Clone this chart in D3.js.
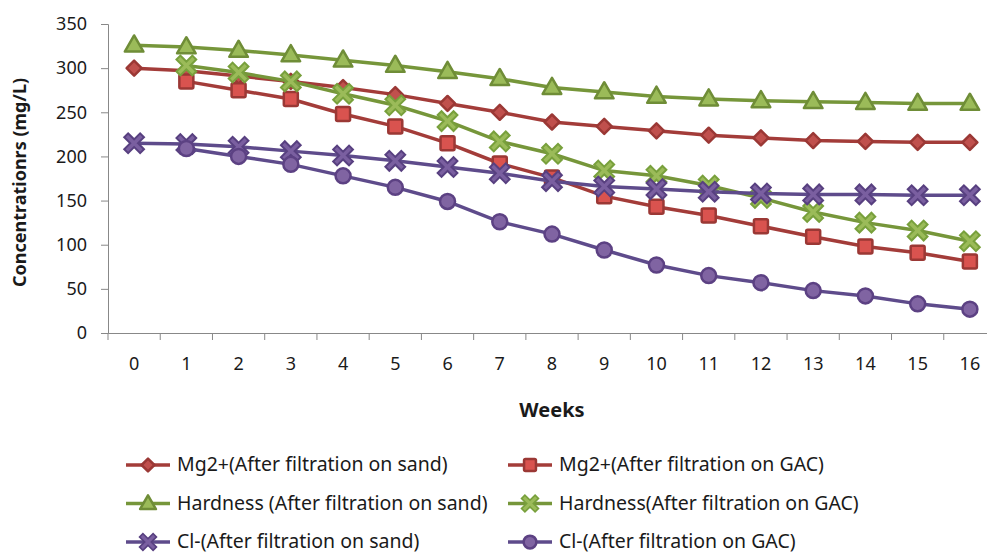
<!DOCTYPE html>
<html lang="en">
  <head>
    <meta charset="utf-8">
    <title>Concentrations over weeks</title>
    <script src="https://cdn.jsdelivr.net/npm/d3@7/dist/d3.min.js"></script>
    <style>
      body { margin: 0; background: #fff; }
      text { font-family: "Noto Sans", "Open Sans", sans-serif; fill: #1a1a1a; }
    </style>
  </head>
  <body>
    <div id="chart"></div>
    <script>
      var weeks = [0, 1, 2, 3, 4, 5, 6, 7, 8, 9, 10, 11, 12, 13, 14, 15, 16];
      var yTicks = [0, 50, 100, 150, 200, 250, 300, 350];

      var mgSand   = [300, 297, 291, 285, 278, 270, 260, 250, 239, 234, 229, 224, 221, 218, 217, 216, 216];
      var mgGac    = [null, 285, 275, 265, 248, 234, 215, 192, 176, 155, 143, 133, 121, 109, 98, 91, 81];
      var hardSand = [326, 324, 320, 315, 309, 303, 296, 288, 278, 273, 268, 265, 263, 262, 261, 260, 260];
      var hardGac  = [null, 303, 295, 285, 271, 258, 240, 217, 203, 184, 178, 167, 153, 137, 125, 116, 104];
      var clSand   = [215, 214, 211, 206, 201, 195, 188, 181, 172, 166, 163, 160, 158, 157, 157, 156, 156];
      var clGac    = [null, 209, 200, 191, 178, 165, 149, 126, 112, 94, 77, 65, 57, 48, 42, 33, 27];

      var names = [
        "Mg2+(After filtration on sand)",
        "Mg2+(After filtration on GAC)",
        "Hardness (After filtration on sand)",
        "Hardness(After filtration on GAC)",
        "Cl-(After filtration on sand)",
        "Cl-(After filtration on GAC)"
      ];

      var series = [
        {name: names[0], values: mgSand,   line: "#a33c39", fill: "#c0504d", stroke: "#9b3835", shape: "diamond"},
        {name: names[1], values: mgGac,    line: "#a33c39", fill: "#d9534f", stroke: "#9b3835", shape: "square"},
        {name: names[2], values: hardSand, line: "#76963a", fill: "#9bbb59", stroke: "#6f8d37", shape: "triangle"},
        {name: names[3], values: hardGac,  line: "#76963a", fill: "#9bbb59", stroke: "#78a03c", shape: "cross"},
        {name: names[4], values: clSand,   line: "#5e4b8b", fill: "#7a5fa0", stroke: "#584080", shape: "x"},
        {name: names[5], values: clGac,    line: "#5e4b8b", fill: "#8064a2", stroke: "#5c4183", shape: "circle"}
      ];

      var width = 987, height = 554;
      var mLeft = 108, mRight = 996, mTop = 24, mBottom = 333;

      var svg = d3.select("#chart").append("svg")
          .attr("width", width)
          .attr("height", height);

      var x = d3.scaleBand()
          .domain(weeks)
          .range([mLeft, mRight]);

      var y = d3.scaleLinear()
          .domain([0, 350])
          .range([mBottom, mTop]);

      // axes
      var yAxis = svg.append("g")
          .attr("transform", "translate(" + mLeft + ",0)")
          .call(d3.axisLeft(y).tickValues(yTicks).tickSize(7).tickPadding(14));
      yAxis.select(".domain").attr("stroke", "#888");
      yAxis.selectAll(".tick line").attr("stroke", "#888");
      yAxis.selectAll("text").style("font-size", "18px").attr("fill", "#1a1a1a");

      var xAxis = svg.append("g")
          .attr("transform", "translate(0," + mBottom + ")")
          .call(d3.axisBottom(x).tickSize(0).tickPadding(24));
      xAxis.select(".domain").attr("stroke", "#888");
      xAxis.selectAll("text").style("font-size", "18px").attr("fill", "#1a1a1a");

      // tick marks between categories
      svg.append("g").selectAll("line")
          .data(weeks.concat([17]))
        .enter().append("line")
          .attr("x1", function(d) { return mLeft + d * x.step(); })
          .attr("x2", function(d) { return mLeft + d * x.step(); })
          .attr("y1", mBottom)
          .attr("y2", mBottom + 7)
          .attr("stroke", "#888");

      svg.append("text")
          .attr("transform", "translate(26," + ((mTop + mBottom) / 2 + 4) + ") rotate(-90)")
          .attr("text-anchor", "middle")
          .style("font-size", "18px")
          .style("font-weight", "bold")
          .text("Concentrationrs (mg/L)");

      svg.append("text")
          .attr("x", 552)
          .attr("y", 417)
          .attr("text-anchor", "middle")
          .style("font-size", "20px")
          .style("font-weight", "bold")
          .text("Weeks");

      var cx = function(i) { return x(weeks[i]) + x.bandwidth() / 2; };

      var line = d3.line()
          .defined(function(d) { return d != null; })
          .x(function(d, i) { return cx(i); })
          .y(function(d) { return y(d); });

      function marker(g, s, px, py, scale) {
        var k = scale || 1;
        if (s.shape == "diamond") {
          var d = 7.5 * k;
          g.append("path")
            .attr("d", "M" + px + "," + (py - d) + "L" + (px + d) + "," + py + "L" + px + "," + (py + d) + "L" + (px - d) + "," + py + "Z")
            .attr("fill", s.fill).attr("stroke", s.stroke).attr("stroke-width", 2.5)
            .attr("stroke-linejoin", "round");
        } else if (s.shape == "square") {
          var h = 7 * k;
          g.append("rect").attr("x", px - h).attr("y", py - h)
            .attr("width", 2 * h).attr("height", 2 * h).attr("rx", 1.5)
            .attr("fill", s.fill).attr("stroke", s.stroke).attr("stroke-width", 2.5);
        } else if (s.shape == "triangle") {
          g.append("path").attr("d", d3.symbol(d3.symbolTriangle, 150 * k * k)())
            .attr("transform", "translate(" + px + "," + (py + 1) + ")")
            .attr("fill", s.fill).attr("stroke", s.stroke).attr("stroke-width", 2.5)
            .attr("stroke-linejoin", "round");
        } else if (s.shape == "cross" || s.shape == "x") {
          var r = 6 * k;
          var p = "M" + (px - r) + "," + (py - r) + "L" + (px + r) + "," + (py + r) +
                  "M" + (px + r) + "," + (py - r) + "L" + (px - r) + "," + (py + r);
          g.append("path").attr("d", p).attr("stroke", s.stroke)
            .attr("stroke-width", 7.5 * k).attr("stroke-linecap", "square");
          g.append("path").attr("d", p).attr("stroke", s.fill)
            .attr("stroke-width", 3.5 * k).attr("stroke-linecap", "square");
        } else {
          g.append("circle").attr("cx", px).attr("cy", py).attr("r", 7.5 * k)
            .attr("fill", s.fill).attr("stroke", s.stroke).attr("stroke-width", 2.5);
        }
      }

      var plot = svg.append("g");

      series.forEach(function(s) {
        var g = plot.append("g");
        g.append("path")
            .datum(s.values)
            .attr("d", line)
            .attr("fill", "none")
            .attr("stroke", s.line)
            .attr("stroke-width", 3.5);
        s.values.forEach(function(v, i) {
          if (v != null) marker(g, s, cx(i), y(v));
        });
      });

      // legend
      var legend = svg.append("g");
      series.forEach(function(s, i) {
        var col = i % 2, row = Math.floor(i / 2);
        var lx = col == 0 ? 126 : 508;
        var ly = 465 + row * 38.5;
        var g = legend.append("g");
        g.append("line")
            .attr("x1", lx).attr("x2", lx + 44)
            .attr("y1", ly).attr("y2", ly)
            .attr("stroke", s.line).attr("stroke-width", 3.5);
        marker(g, s, lx + 22, ly, 0.85);
        g.append("text")
            .attr("x", lx + 51)
            .attr("y", ly + 6)
            .style("font-size", "19.5px")
            .text(s.name);
      });
    </script>
  </body>
</html>
